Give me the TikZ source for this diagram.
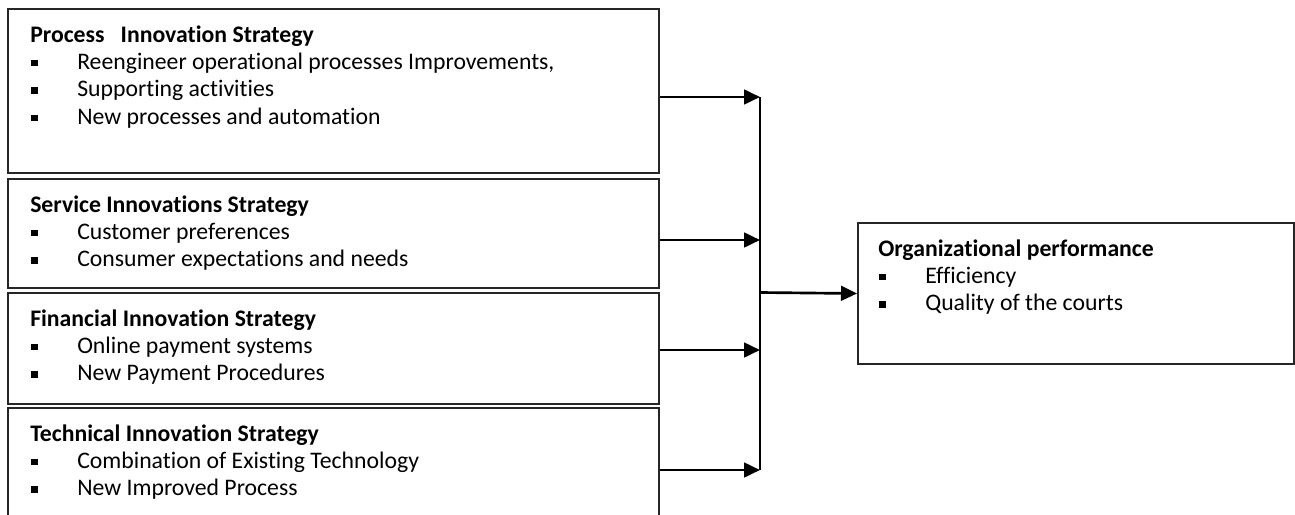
\documentclass[tikz,border=0pt]{standalone}
\usepackage{fontspec}
\setmainfont{Carlito}[Ligatures=NoCommon]
\usetikzlibrary{arrows.meta}
\newcommand{\blt}[1]{\makebox[35.25pt][l]{\hspace{0.9pt}\rule[2.5pt]{4.8pt}{4.8pt}}#1}
\begin{document}
\begin{tikzpicture}[x=0.75pt,y=-0.75pt,
  box/.style={draw=black!85, line width=1.5pt, inner sep=0pt, anchor=north west},
  txt/.style={anchor=base west, inner sep=0pt, font=\fontsize{17.8}{20.6}\selectfont},
  arr/.style={line width=2pt, -{Triangle[length=12pt,width=11pt]}},
  bus/.style={line width=0.8pt}]
\useasboundingbox (0,0) rectangle (1295,514);
\clip (0,0) rectangle (1295,514);
% boxes
\node[box, minimum width=488.25pt, minimum height=123pt] (b1) at (7,8) {};
\node[box, minimum width=488.25pt, minimum height=81.75pt] (b2) at (7,178) {};
\node[box, minimum width=488.25pt, minimum height=83.25pt] (b3) at (7,292) {};
\node[box, minimum width=488.25pt, minimum height=97.5pt] (b4) at (7,407) {};
\node[box, minimum width=327pt, minimum height=105.75pt] (out) at (857,222) {};
% texts
\node[txt] (t1) at (30,42) {\begin{tabular}[t]{@{}l@{}}\textbf{Process\ \ \ Innovation Strategy}\\
\blt{Reengineer operational processes Improvements,}\\
\blt{Supporting activities}\\
\blt{New processes and automation}\end{tabular}};
\node[txt] (t2) at (30,212) {\begin{tabular}[t]{@{}l@{}}\textbf{Service Innovations Strategy}\\
\blt{Customer preferences}\\
\blt{Consumer expectations and needs}\end{tabular}};
\node[txt] (t3) at (30,326) {\begin{tabular}[t]{@{}l@{}}\textbf{Financial Innovation Strategy}\\
\blt{Online payment systems}\\
\blt{New Payment Procedures}\end{tabular}};
\node[txt] (t4) at (30,441) {\begin{tabular}[t]{@{}l@{}}\textbf{Technical Innovation Strategy}\\
\blt{Combination of Existing Technology}\\
\blt{New Improved Process}\end{tabular}};
\node[txt] (to) at (878,256) {\begin{tabular}[t]{@{}l@{}}\textbf{Organizational performance}\\
\blt{Efficiency}\\
\blt{Quality of the courts}\end{tabular}};
% connectors
\coordinate (j1) at (760,97);
\coordinate (j2) at (760,240);
\coordinate (j3) at (760,350);
\coordinate (j4) at (760,470);
\coordinate (jm) at (760,292.5);
\draw[arr] (b1.east |- j1) -- (j1);
\draw[arr] (b2.east |- j2) -- (j2);
\draw[arr] (b3.east |- j3) -- (j3);
\draw[arr] (b4.east |- j4) -- (j4);
\draw[bus] (j1) -- (j4);
\draw[arr] (jm) -- (out.west);
\end{tikzpicture}
\end{document}
